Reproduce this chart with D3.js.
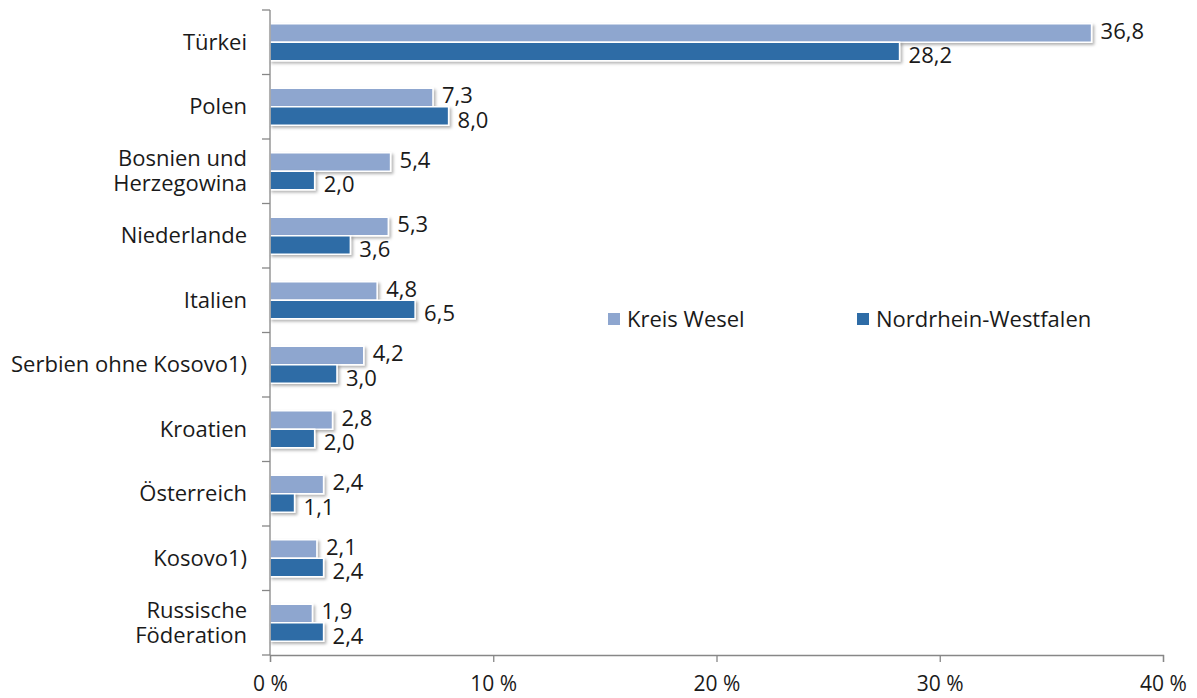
<!DOCTYPE html>
<html lang="en">
<head>
<meta charset="utf-8">
<title>Kreis Wesel vs NRW</title>
<script src="https://d3js.org/d3.v7.min.js"></script>
<style>
	body { margin: 0; background: #fff; }
	text { font-family: "Open Sans", sans-serif; fill: #1a1a1a; }
</style>
</head>
<body>
<script>
// categories, top to bottom
var categories = ["Türkei", "Polen", "Bosnien und Herzegowina", "Niederlande", "Italien",
	"Serbien ohne Kosovo1)", "Kroatien", "Österreich", "Kosovo1)", "Russische Föderation"];
// label lines (some labels are wrapped)
var labelLines = [["Türkei"], ["Polen"], ["Bosnien und", "Herzegowina"], ["Niederlande"], ["Italien"],
	["Serbien ohne Kosovo1)"], ["Kroatien"], ["Österreich"], ["Kosovo1)"], ["Russische", "Föderation"]];
var series = ["Kreis Wesel", "Nordrhein-Westfalen"];
var wesel = [36.8, 7.3, 5.4, 5.3, 4.8, 4.2, 2.8, 2.4, 2.1, 1.9];
var nrw = [28.2, 8.0, 2.0, 3.6, 6.5, 3.0, 2.0, 1.1, 2.4, 2.4];
var xTicks = [0, 10, 20, 30, 40];
var colors = ["#8ea6cf", "#2e6ca6"];

var w = 1197, h = 698;
var mLeft = 270, mRight = 1163, mTop = 10, mBottom = 655;

var svg = d3.select("body").append("svg")
	.attr("width", w)
	.attr("height", h);

// soft shadow for the bars
var defs = svg.append("defs");
var f = defs.append("filter").attr("id", "shadow")
	.attr("x", "-10%").attr("y", "-30%").attr("width", "130%").attr("height", "180%");
f.append("feDropShadow").attr("dx", 2).attr("dy", 2).attr("stdDeviation", 1.5)
	.attr("flood-color", "#000").attr("flood-opacity", 0.3);

var x = d3.scaleLinear().domain([0, 40]).range([mLeft, mRight]);
var y = d3.scaleBand().domain(categories).range([mTop, mBottom]);
var bw = y.bandwidth();
var y1 = d3.scaleBand().domain(series).range([bw / 2 - 18.5, bw / 2 + 18.5]);

var rows = categories.map(function(c, i) {
	return { cat: c, vals: [{ s: series[0], v: wesel[i] }, { s: series[1], v: nrw[i] }] };
});

// bars
var g = svg.selectAll("g.cat")
	.data(rows)
	.enter().append("g")
	.attr("class", "cat")
	.attr("transform", function(d) { return "translate(0," + y(d.cat) + ")"; });

g.selectAll("rect")
	.data(function(d) { return d.vals; })
	.enter().append("rect")
	.attr("x", x(0))
	.attr("y", function(d) { return y1(d.s); })
	.attr("width", function(d) { return x(d.v) - x(0); })
	.attr("height", y1.bandwidth())
	.attr("fill", function(d, i) { return colors[i]; })
	.attr("stroke", "#fff")
	.attr("stroke-width", 1.5)
	.attr("filter", "url(#shadow)");

// value labels
g.selectAll("text.val")
	.data(function(d) { return d.vals; })
	.enter().append("text")
	.attr("class", "val")
	.attr("x", function(d) { return x(d.v) + 9; })
	.attr("y", function(d, i) { return y1(d.s) + y1.bandwidth() / 2 + (i == 0 ? -2 : 4); })
	.attr("dy", "0.35em")
	.attr("font-size", 22)
	.text(function(d) { return d3.format(".1f")(d.v).replace(".", ","); });

// y axis
var yAxis = svg.append("g");
yAxis.append("line")
	.attr("x1", mLeft).attr("x2", mLeft)
	.attr("y1", mTop).attr("y2", mBottom)
	.attr("stroke", "#878787").attr("stroke-width", 1.3);
yAxis.selectAll("line.tick")
	.data(d3.range(categories.length + 1))
	.enter().append("line")
	.attr("x1", mLeft - 8).attr("x2", mLeft)
	.attr("y1", function(i) { return mTop + i * bw; })
	.attr("y2", function(i) { return mTop + i * bw; })
	.attr("stroke", "#878787").attr("stroke-width", 1.3);

// category labels
svg.selectAll("text.cat")
	.data(categories)
	.enter().append("text")
	.attr("class", "cat")
	.attr("text-anchor", "end")
	.attr("font-size", 22)
	.attr("x", 247)
	.attr("y", function(d) { return y(d) + bw / 2; })
	.each(function(d, i) {
		var lines = labelLines[i];
		var t = d3.select(this);
		lines.forEach(function(l, j) {
			t.append("tspan")
				.attr("x", 247)
				.attr("dy", j == 0 ? (0.35 - (lines.length - 1) * 0.57) + "em" : "1.14em")
				.text(l);
		});
	});

// x axis
var xAxis = svg.append("g").attr("transform", "translate(0," + mBottom + ")")
	.call(d3.axisBottom(x).tickValues(xTicks).tickSize(7).tickPadding(14)
		.tickFormat(function(d) { return d + " %"; }));
xAxis.select(".domain").attr("stroke", "#878787").attr("stroke-width", 1.3);
xAxis.selectAll(".tick line").attr("stroke", "#878787").attr("stroke-width", 1.3);
xAxis.selectAll(".tick text")
	.attr("font-size", 21)
	.attr("font-family", "'Open Sans', sans-serif")
	.attr("fill", "#1a1a1a");

// legend
var legend = svg.selectAll("g.legend")
	.data(series)
	.enter().append("g")
	.attr("class", "legend")
	.attr("transform", function(d, i) { return "translate(" + [608, 857][i] + ",313)"; });
legend.append("rect")
	.attr("width", 12).attr("height", 12)
	.attr("fill", function(d, i) { return colors[i]; });
legend.append("text")
	.attr("x", 19).attr("y", 6)
	.attr("dy", "0.35em")
	.attr("font-size", 22)
	.text(function(d) { return d; });
</script>
</body>
</html>
